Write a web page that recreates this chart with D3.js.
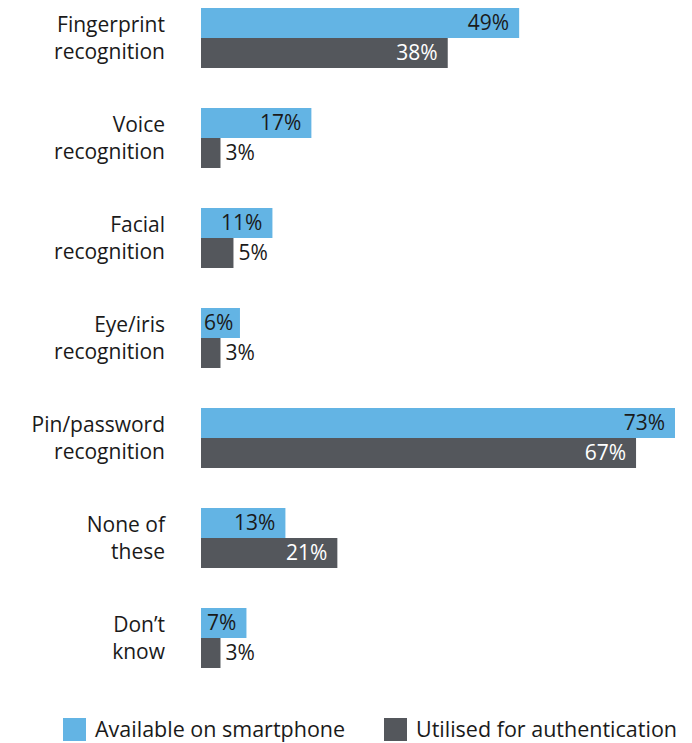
<!DOCTYPE html>
<html>
<head>
<meta charset="utf-8">
<script src="https://cdn.jsdelivr.net/npm/d3@7"></script>
<style>
  html, body { margin: 0; padding: 0; background: #ffffff; }
  svg { display: block; font-family: "Open Sans", "Noto Sans", sans-serif; }
</style>
</head>
<body>
<svg id="chart" width="692" height="743"></svg>
<script>
// Biometric / authentication methods survey
const categories = [
  ["Fingerprint", "recognition"],
  ["Voice", "recognition"],
  ["Facial", "recognition"],
  ["Eye/iris", "recognition"],
  ["Pin/password", "recognition"],
  ["None of", "these"],
  ["Don\u2019t", "know"]
];
const seriesNames = ["Available on smartphone", "Utilised for authentication"];
const available = [49, 17, 11, 6, 73, 13, 7];
const utilised = [38, 3, 5, 3, 67, 21, 3];
const colors = ["#63b4e4", "#54575c"];

const svg = d3.select("#chart");
const fontSize = 21;

const keys = categories.map((c, i) => i);
const y = d3.scaleBand().domain(keys).range([8, 668]).paddingInner(0.4).paddingOuter(0);
const ySub = d3.scaleBand().domain([0, 1]).range([0, y.bandwidth()]);
const allValues = available.concat(utilised);
const x = d3.scaleLinear().domain([0, d3.max(allValues)]).range([201, 675]);

const rows = keys.map(i => ({ i, values: [available[i], utilised[i]] }));

// Category labels (two lines, right-aligned)
const labelX = 165;
const cat = svg.append("g").selectAll("text").data(rows).join("text")
  .attr("text-anchor", "end")
  .attr("font-size", fontSize)
  .attr("fill", "#1a1a1a");
cat.each(function(d) {
  const mid = y(d.i) + y.bandwidth() / 2;
  const t = d3.select(this);
  t.append("tspan").attr("x", labelX).attr("y", mid - 6).text(categories[d.i][0]);
  t.append("tspan").attr("x", labelX).attr("y", mid + 21).text(categories[d.i][1]);
});

// Bars and value labels
const groups = svg.append("g").selectAll("g").data(rows).join("g")
  .attr("transform", d => `translate(0,${y(d.i)})`);

groups.each(function(d) {
  const g = d3.select(this);
  d.values.forEach((v, s) => {
    const y0 = ySub(s);
    const w = x(v) - x(0);
    g.append("rect")
      .attr("x", x(0)).attr("y", y0)
      .attr("width", w).attr("height", ySub.bandwidth())
      .attr("fill", colors[s]);
    const label = g.append("text")
      .attr("font-size", fontSize)
      .attr("y", y0 + ySub.bandwidth() / 2 + 7)
      .text(v + "%");
    const tw = label.node().getComputedTextLength();
    if (w >= tw + 6) {
      const right = Math.max(x(v) - 10, x(0) + 3 + tw);
      label.attr("x", right).attr("text-anchor", "end")
        .attr("fill", s === 0 ? "#1a1a1a" : "#ffffff");
    } else {
      label.attr("x", x(v) + 5).attr("text-anchor", "start").attr("fill", "#1a1a1a");
    }
  });
});

// Legend
const legendItems = [
  { name: seriesNames[0], color: colors[0], x: 63 },
  { name: seriesNames[1], color: colors[1], x: 384 }
];
const legend = svg.append("g").selectAll("g").data(legendItems).join("g")
  .attr("transform", d => `translate(${d.x},718)`);
legend.append("rect").attr("width", 23).attr("height", 23).attr("fill", d => d.color);
legend.append("text").attr("x", 32).attr("y", 19)
  .attr("font-size", 21.5).attr("fill", "#1a1a1a")
  .text(d => d.name);
</script>
</body>
</html>
